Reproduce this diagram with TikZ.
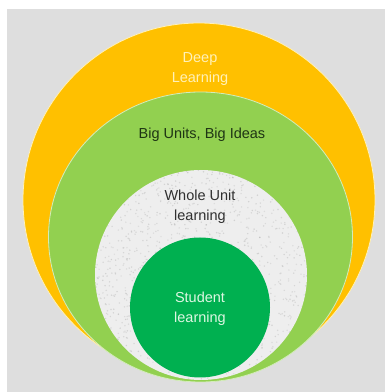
\documentclass[tikz,border=0pt]{standalone}
\usepackage{fontspec}
\setmainfont{Liberation Sans}
\usetikzlibrary{shapes.geometric}
\definecolor{bggray}{HTML}{DEDEDE}
\definecolor{orangeC}{HTML}{FFC000}
\definecolor{greenC}{HTML}{92D050}
\definecolor{dgreenC}{HTML}{00B050}
\definecolor{texC}{HTML}{EEEEEE}
\definecolor{deepT}{HTML}{FFF1B8}
\definecolor{bigT}{HTML}{1E3414}
\definecolor{wholeT}{HTML}{303030}
\definecolor{studT}{HTML}{DDF7E2}
\tikzset{
  ring/.style={ellipse, inner sep=0pt, outer sep=0pt},
  lbl/.style={font=\fontsize{14.5}{20}\selectfont, align=center, inner sep=0pt}
}
\begin{document}
\begin{tikzpicture}[x=1pt,y=1pt]
\useasboundingbox (0,0) rectangle (385,392);
\fill[white] (0,0) rectangle (385,392);
\fill[bggray] (7,0) rectangle (385,383);
\node[ring, fill=orangeC, draw=deepT, line width=0.8pt, minimum width=352pt, minimum height=354pt] (deep) at (199,192) {};
\node[ring, fill=greenC, draw=white!60!greenC, line width=0.8pt, minimum width=304pt, minimum height=290pt] (big) at (200.5,155) {};
\node[ring, fill=texC, minimum width=212pt, minimum height=210pt] (whole) at (201,117) {};
\begin{scope}
  \clip (201,117) ellipse (106pt and 105pt);
  \pgfmathsetseed{7}
  \foreach \i in {1,...,1400} {
    \pgfmathsetmacro{\px}{95+212*rnd}
    \pgfmathsetmacro{\py}{12+210*rnd}
    \pgfmathsetmacro{\gs}{35+25*rnd}
    \fill[black!\gs!white, opacity=0.22] (\px,\py) circle (0.8pt);
  }
\end{scope}
\node[ring, fill=dgreenC, minimum width=140pt, minimum height=140pt] (student) at (200,84.5) {};
\node[lbl, text=deepT] (deepL) at (200,322.5) {Deep\\Learning};
\node[lbl, text=bigT] (bigL) at (202,257) {Big Units, Big Ideas};
\node[lbl, text=wholeT] (wholeL) at (200,185) {Whole Unit\\learning};
\node[lbl, text=studT] (studL) at (200,83) {Student\\learning};
\end{tikzpicture}
\end{document}
